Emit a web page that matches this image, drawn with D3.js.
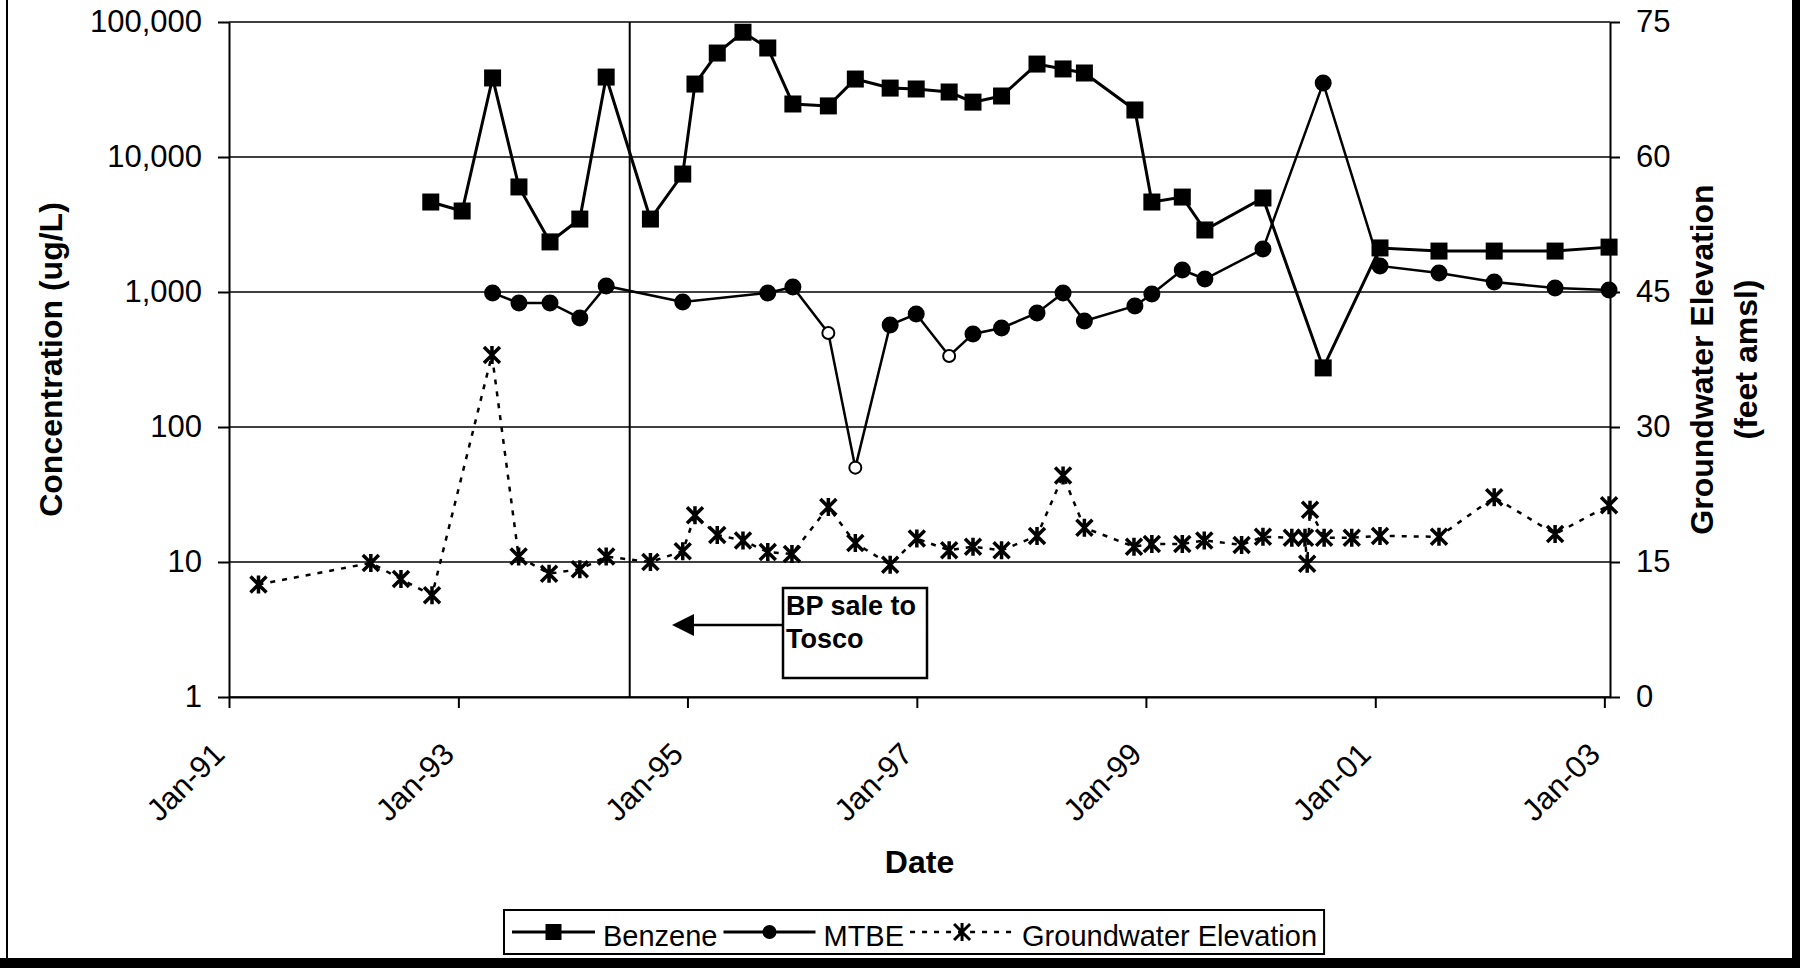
<!DOCTYPE html>
<html lang="en">
<head>
<meta charset="utf-8">
<title>Benzene, MTBE and Groundwater Elevation</title>
<script src="https://cdn.jsdelivr.net/npm/d3@7"></script>
<style>
  body { margin: 0; background: #fff; }
  svg { display: block; font-family: Arial, "Liberation Sans", sans-serif; }
  .axis path, .axis line { stroke: #000; stroke-width: 2; }
  .axis text { font-size: 31px; fill: #000; }
  .title { font-size: 32px; font-weight: bold; fill: #000; }
  .grid line { stroke: #000; stroke-width: 1.5; }
</style>
</head>
<body>
<div id="chart"></div>
<script>
// ---- data ----
var benzeneDates = ["1992-10-05","1993-01-13","1993-04-20","1993-07-13","1993-10-20","1994-01-23","1994-04-17",
  "1994-09-05","1994-12-17","1995-01-25","1995-04-06","1995-06-27","1995-09-14","1995-12-03","1996-03-25",
  "1996-06-19","1996-10-08","1996-12-30","1997-04-14","1997-06-29","1997-09-28","1998-01-19","1998-04-12",
  "1998-06-19","1998-11-27","1999-01-20","1999-04-27","1999-07-08","2000-01-09","2000-07-19","2001-01-16",
  "2001-07-23","2002-01-15","2002-07-28","2003-01-16"];
var benzeneValues = [4640,3980,38500,6000,2350,3470,39100,3470,7480,34700,58900,84000,64200,24700,23900,
  37800,32400,31900,30300,25500,28300,48800,44900,41900,22300,4640,5050,2880,4970,274,2120,2010,2010,2010,2150];

var mtbeDates = ["1993-04-20","1993-07-13","1993-10-20","1994-01-23","1994-04-17","1994-12-17","1995-09-14",
  "1995-12-03","1996-03-25","1996-06-19","1996-10-08","1996-12-30","1997-04-14","1997-06-29","1997-09-28",
  "1998-01-19","1998-04-12","1998-06-19","1998-11-27","1999-01-20","1999-04-27","1999-07-08","2000-01-09",
  "2000-07-19","2001-01-16","2001-07-23","2002-01-15","2002-07-28","2003-01-16"];
var mtbeValues = [984,829,829,642,1108,844,984,1089,497,50,570,687,336,489,541,699,984,610,788,966,1456,
  1248,2080,35300,1560,1383,1186,1071,1035];
// samples drawn with an open circle
var mtbeOpenDates = ["1996-03-25","1996-06-19","1997-04-14"];

var gwDates = ["1991-04-05","1992-03-28","1992-07-02","1992-10-09","1993-04-18","1993-07-12","1993-10-17",
  "1994-01-23","1994-04-17","1994-09-05","1994-12-17","1995-01-25","1995-04-06","1995-06-27","1995-09-14",
  "1995-11-30","1996-03-25","1996-06-19","1996-10-08","1997-01-01","1997-04-14","1997-06-29","1997-09-28",
  "1998-01-19","1998-04-12","1998-06-19","1998-11-24","1999-01-20","1999-04-27","1999-07-06","1999-11-02",
  "2000-01-09","2000-04-10","2000-05-22","2000-05-29","2000-06-07","2000-07-22","2000-10-18","2001-01-16",
  "2001-07-23","2002-01-15","2002-07-28","2003-01-16"];
var gwValues = [12.5,14.9,13.1,11.3,38.0,15.6,13.7,14.2,15.6,15.0,16.2,20.2,18.0,17.4,16.1,15.9,21.1,17.1,
  14.7,17.6,16.3,16.7,16.3,17.9,24.6,18.8,16.7,17.0,17.0,17.4,16.9,17.8,17.7,17.7,14.8,20.8,17.7,17.7,17.9,
  17.8,22.2,18.1,21.3];

var concTicks = [1, 10, 100, 1000, 10000, 100000];
var elevTicks = [0, 15, 30, 45, 60, 75];
var dateTicks = ["1991-01-01","1993-01-01","1995-01-01","1997-01-01","1999-01-01","2001-01-01","2003-01-01"];
var dateDomain = ["1991-01-01", "2003-01-19"];
var saleDate = "1994-07-01";
var seriesNames = ["Benzene", "MTBE", "Groundwater Elevation"];

// ---- setup ----
var W = 1800, H = 968;
var plotL = 229, plotR = 1610, plotT = 22, plotB = 697;
var parse = d3.timeParse("%Y-%m-%d");

var svg = d3.select("#chart").append("svg")
    .attr("width", W)
    .attr("height", H);

svg.append("rect").attr("width", W).attr("height", H).attr("fill", "#fff");

var x = d3.scaleTime().domain(dateDomain.map(parse)).range([plotL, plotR]);
var y = d3.scaleLog().domain([1, 100000]).range([plotB, plotT]);
var y2 = d3.scaleLinear().domain([0, 75]).range([plotB, plotT]);

// gridlines
svg.append("g").attr("class", "grid")
  .selectAll("line").data(concTicks).enter().append("line")
    .attr("x1", plotL).attr("x2", plotR)
    .attr("y1", function(d) { return y(d); })
    .attr("y2", function(d) { return y(d); });

// axes
svg.append("g").attr("class", "axis")
    .attr("transform", "translate(" + plotL + ",0)")
    .call(d3.axisLeft(y).tickValues(concTicks).tickFormat(d3.format(",")).tickSize(11).tickSizeOuter(0).tickPadding(16));

svg.append("g").attr("class", "axis")
    .attr("transform", "translate(" + plotR + ",0)")
    .call(d3.axisRight(y2).tickValues(elevTicks).tickSize(10).tickSizeOuter(0).tickPadding(16));

var xAxis = svg.append("g").attr("class", "axis")
    .attr("transform", "translate(0," + plotB + ")")
    .call(d3.axisBottom(x).tickValues(dateTicks.map(parse)).tickFormat(d3.timeFormat("%b-%y")).tickSize(11).tickSizeOuter(0));
xAxis.selectAll("text")
    .attr("x", 0).attr("y", 0).attr("dy", 0)
    .attr("text-anchor", "end")
    .attr("transform", "translate(-3,59) rotate(-45)");

// axis titles
svg.append("text").attr("class", "title")
    .attr("text-anchor", "middle")
    .attr("transform", "translate(62," + ((plotT + plotB) / 2) + ") rotate(-90)")
    .text("Concentration (ug/L)");
svg.append("text").attr("class", "title")
    .attr("text-anchor", "middle")
    .attr("transform", "translate(1713," + ((plotT + plotB) / 2) + ") rotate(-90)")
    .text("Groundwater Elevation");
svg.append("text").attr("class", "title")
    .attr("text-anchor", "middle")
    .attr("transform", "translate(1757," + ((plotT + plotB) / 2) + ") rotate(-90)")
    .text("(feet amsl)");
svg.append("text").attr("class", "title")
    .attr("text-anchor", "middle")
    .attr("x", (plotL + plotR) / 2).attr("y", 873)
    .text("Date");

// sale line
svg.append("line")
    .attr("x1", x(parse(saleDate))).attr("x2", x(parse(saleDate)))
    .attr("y1", plotT).attr("y2", plotB)
    .attr("stroke", "#000").attr("stroke-width", 2);

// series
var benzene = benzeneDates.map(function(d, i) { return {date: parse(d), v: benzeneValues[i]}; });
var mtbe = mtbeDates.map(function(d, i) { return {date: parse(d), v: mtbeValues[i], open: mtbeOpenDates.indexOf(d) >= 0}; });
var gw = gwDates.map(function(d, i) { return {date: parse(d), v: gwValues[i]}; });

var concLine = d3.line().x(function(d) { return x(d.date); }).y(function(d) { return y(d.v); });
var elevLine = d3.line().x(function(d) { return x(d.date); }).y(function(d) { return y2(d.v); });

svg.append("path").datum(gw).attr("d", elevLine)
    .attr("fill", "none").attr("stroke", "#000").attr("stroke-width", 2.5).attr("stroke-dasharray", "5,7");
svg.append("path").datum(mtbe).attr("d", concLine)
    .attr("fill", "none").attr("stroke", "#000").attr("stroke-width", 2.5);
svg.append("path").datum(benzene).attr("d", concLine)
    .attr("fill", "none").attr("stroke", "#000").attr("stroke-width", 3);

var starPath = "M0,-9V9M-8,-8L8,8M-8,8L8,-8";

svg.append("g").selectAll("path").data(gw).enter().append("path")
    .attr("d", starPath)
    .attr("transform", function(d) { return "translate(" + x(d.date) + "," + y2(d.v) + ")"; })
    .attr("stroke", "#000").attr("stroke-width", 3.5).attr("fill", "none");

svg.append("g").selectAll("circle").data(mtbe).enter().append("circle")
    .attr("cx", function(d) { return x(d.date); })
    .attr("cy", function(d) { return y(d.v); })
    .attr("r", function(d) { return d.open ? 6 : 7.5; })
    .attr("fill", function(d) { return d.open ? "#fff" : "#000"; })
    .attr("stroke", "#000").attr("stroke-width", 2);

svg.append("g").selectAll("rect").data(benzene).enter().append("rect")
    .attr("x", function(d) { return x(d.date) - 8.5; })
    .attr("y", function(d) { return y(d.v) - 8.5; })
    .attr("width", 17).attr("height", 17)
    .attr("fill", "#000");

// annotation box + arrow
var note = svg.append("g");
note.append("rect").attr("x", 783).attr("y", 588).attr("width", 144).attr("height", 90)
    .attr("fill", "#fff").attr("stroke", "#000").attr("stroke-width", 2.5);
note.selectAll("text").data(["BP sale to", "Tosco"]).enter().append("text")
    .attr("x", 786).attr("y", function(d, i) { return 615 + i * 33; })
    .attr("font-size", 27).attr("font-weight", "bold")
    .text(function(d) { return d; });
note.append("line").attr("x1", 783).attr("x2", 690).attr("y1", 625).attr("y2", 625)
    .attr("stroke", "#000").attr("stroke-width", 2.5);
note.append("path").attr("d", "M672,625L694,614L694,636Z").attr("fill", "#000");

// legend
var legend = svg.append("g");
var lineLens = [83, 92, 104];
var ly = 932, lx = 512;
var lbox = legend.append("rect").attr("x", 504).attr("y", 910).attr("height", 44)
    .attr("fill", "#fff").attr("stroke", "#000").attr("stroke-width", 2);
seriesNames.forEach(function(name, i) {
  var len = lineLens[i], cx = lx + len / 2;
  var ln = legend.append("line").attr("x1", lx).attr("x2", lx + len).attr("y1", ly).attr("y2", ly)
      .attr("stroke", "#000").attr("stroke-width", i == 2 ? 2.5 : 3);
  if (i == 0) {
    legend.append("rect").attr("x", cx - 8).attr("y", ly - 8).attr("width", 16).attr("height", 16).attr("fill", "#000");
  } else if (i == 1) {
    legend.append("circle").attr("cx", cx).attr("cy", ly).attr("r", 7).attr("fill", "#000");
  } else {
    ln.attr("stroke-dasharray", "5,7");
    legend.append("path").attr("d", starPath).attr("transform", "translate(" + cx + "," + ly + ")")
        .attr("stroke", "#000").attr("stroke-width", 3).attr("fill", "none");
  }
  var t = legend.append("text").attr("x", lx + len + 8).attr("y", 946)
      .attr("font-size", 29).text(name);
  lx = lx + len + 8 + t.node().getComputedTextLength() + 6;
});
lbox.attr("width", lx + 1 - 504);

// outer frame from the scanned figure
svg.append("rect").attr("x", 6).attr("y", 0).attr("width", 2).attr("height", 958).attr("fill", "#000");
svg.append("rect").attr("x", 1792).attr("y", 0).attr("width", 8).attr("height", H).attr("fill", "#000");
svg.append("rect").attr("x", 0).attr("y", 958).attr("width", W).attr("height", 10).attr("fill", "#000");
</script>
</body>
</html>
